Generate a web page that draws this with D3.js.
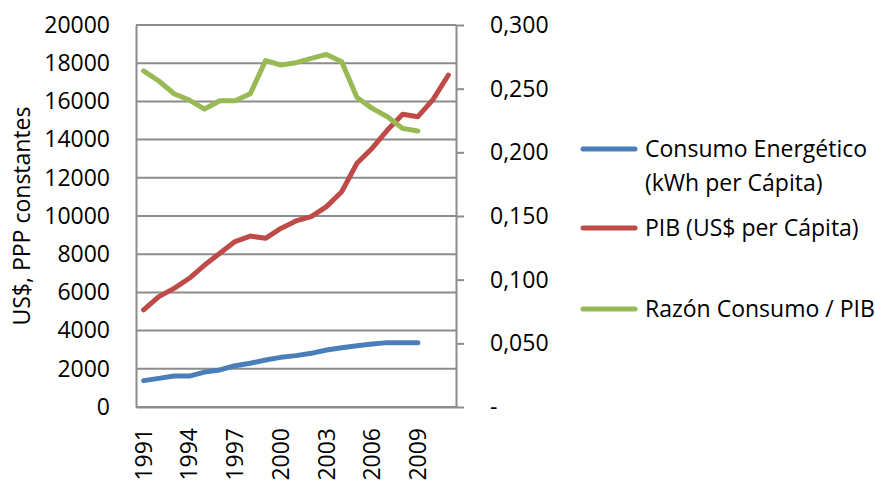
<!DOCTYPE html>
<html>
<head>
<meta charset="utf-8">
<script src="https://cdn.jsdelivr.net/npm/d3@7"></script>
<style>
  html, body { margin: 0; padding: 0; background: #fff; }
  svg { display: block; }
  text { font-family: "Open Sans", sans-serif; font-size: 23px; fill: #000; }
</style>
</head>
<body>
<svg id="chart" width="875" height="481"></svg>
<script>
// ---- Data ----
const years = [1991,1992,1993,1994,1995,1996,1997,1998,1999,2000,2001,2002,2003,2004,2005,2006,2007,2008,2009,2010,2011];
const consumo = [1380,1500,1620,1620,1830,1940,2160,2290,2460,2600,2690,2810,2985,3105,3210,3300,3370,3370,3370,null,null];
const pib = [5080,5780,6210,6740,7430,8050,8660,8950,8830,9350,9740,9970,10490,11270,12760,13550,14500,15330,15200,16110,17380];
const razon = [0.264,0.256,0.246,0.241,0.234,0.2405,0.2405,0.246,0.272,0.2686,0.2704,0.2738,0.2769,0.2711,0.2431,0.2345,0.2279,0.2188,0.2167,null,null];
const leftTicks = [0,2000,4000,6000,8000,10000,12000,14000,16000,18000,20000];
const rightTicks = [0,0.05,0.10,0.15,0.20,0.25,0.30];
const xLabelYears = [1991,1994,1997,2000,2003,2006,2009];
const seriesNames = [["Consumo Energético","(kWh per Cápita)"],["PIB (US$ per Cápita)"],["Razón Consumo / PIB"]];
const colors = ["#4a7ebb","#be4b48","#98b954"];
const yTitle = "US$, PPP constantes";

// ---- Layout ----
const svg = d3.select("#chart");
const L = 136, R = 456, T = 25, B = 407;

const x = d3.scaleBand().domain(years).range([L, R]);
const yL = d3.scaleLinear().domain([0, 20000]).range([B, T]);
const yR = d3.scaleLinear().domain([0, 0.3]).range([B, T]);
const cx = d => x(d) + x.bandwidth() / 2;

const gridColor = "#8c8c8c";
const gw = 2;

// gridlines
svg.append("g").selectAll("line").data(leftTicks).join("line")
  .attr("x1", L).attr("x2", R)
  .attr("y1", d => yL(d)).attr("y2", d => yL(d))
  .attr("stroke", gridColor).attr("stroke-width", gw);

// left axis
const gL = svg.append("g").attr("transform", `translate(${L},0)`)
  .call(d3.axisLeft(yL).tickValues(leftTicks).tickSize(0).tickPadding(26).tickFormat(d3.format("d")));
gL.select(".domain").attr("stroke", gridColor).attr("stroke-width", gw);
gL.selectAll("text").attr("font-size", 23).attr("font-family", "Open Sans").attr("fill", "#000");

// right axis
const gR = svg.append("g").attr("transform", `translate(${R},0)`)
  .call(d3.axisRight(yR).tickValues(rightTicks).tickSize(8).tickSizeOuter(0).tickPadding(26)
    .tickFormat(d => d === 0 ? "-" : d3.format(".3f")(d).replace(".", ",")));
gR.select(".domain").attr("stroke", gridColor).attr("stroke-width", gw);
gR.selectAll(".tick line").attr("stroke", gridColor).attr("stroke-width", gw);
gR.selectAll("text").attr("font-size", 23).attr("font-family", "Open Sans").attr("fill", "#000");

// bottom axis
const gB = svg.append("g").attr("transform", `translate(0,${B})`)
  .call(d3.axisBottom(x).tickValues(xLabelYears).tickSize(0).tickPadding(0).tickSizeOuter(0));
gB.select(".domain").attr("stroke", gridColor).attr("stroke-width", gw);
gB.selectAll("text")
  .attr("font-size", 23).attr("font-family", "Open Sans").attr("fill", "#000")
  .attr("text-anchor", "end")
  .attr("transform", "rotate(-90)")
  .attr("x", -21).attr("y", 0).attr("dy", "0.35em");

// lines
const lineL = d3.line().defined(d => d[1] != null).x(d => cx(d[0])).y(d => yL(d[1]));
const lineR = d3.line().defined(d => d[1] != null).x(d => cx(d[0])).y(d => yR(d[1]));
const seriesData = [
  { vals: consumo, gen: lineL, color: colors[0] },
  { vals: pib, gen: lineL, color: colors[1] },
  { vals: razon, gen: lineR, color: colors[2] }
];
seriesData.forEach(s => {
  svg.append("path")
    .datum(years.map((yr, i) => [yr, s.vals[i]]))
    .attr("d", s.gen)
    .attr("fill", "none")
    .attr("stroke", s.color)
    .attr("stroke-width", 5)
    .attr("stroke-linejoin", "round")
    .attr("stroke-linecap", "round");
});

// y title
svg.append("text")
  .attr("transform", "translate(22,216) rotate(-90)")
  .attr("text-anchor", "middle")
  .attr("dy", "0.35em")
  .text(yTitle);

// legend
const legY = [149, 228, 309];
const leg = svg.append("g");
seriesNames.forEach((lines, i) => {
  leg.append("line")
    .attr("x1", 583).attr("x2", 635)
    .attr("y1", legY[i]).attr("y2", legY[i])
    .attr("stroke", colors[i]).attr("stroke-width", 5).attr("stroke-linecap", "round");
  lines.forEach((t, j) => {
    leg.append("text")
      .attr("x", 645).attr("y", legY[i] + j * 34)
      .attr("dy", "0.35em")
      .text(t);
  });
});
</script>
</body>
</html>
